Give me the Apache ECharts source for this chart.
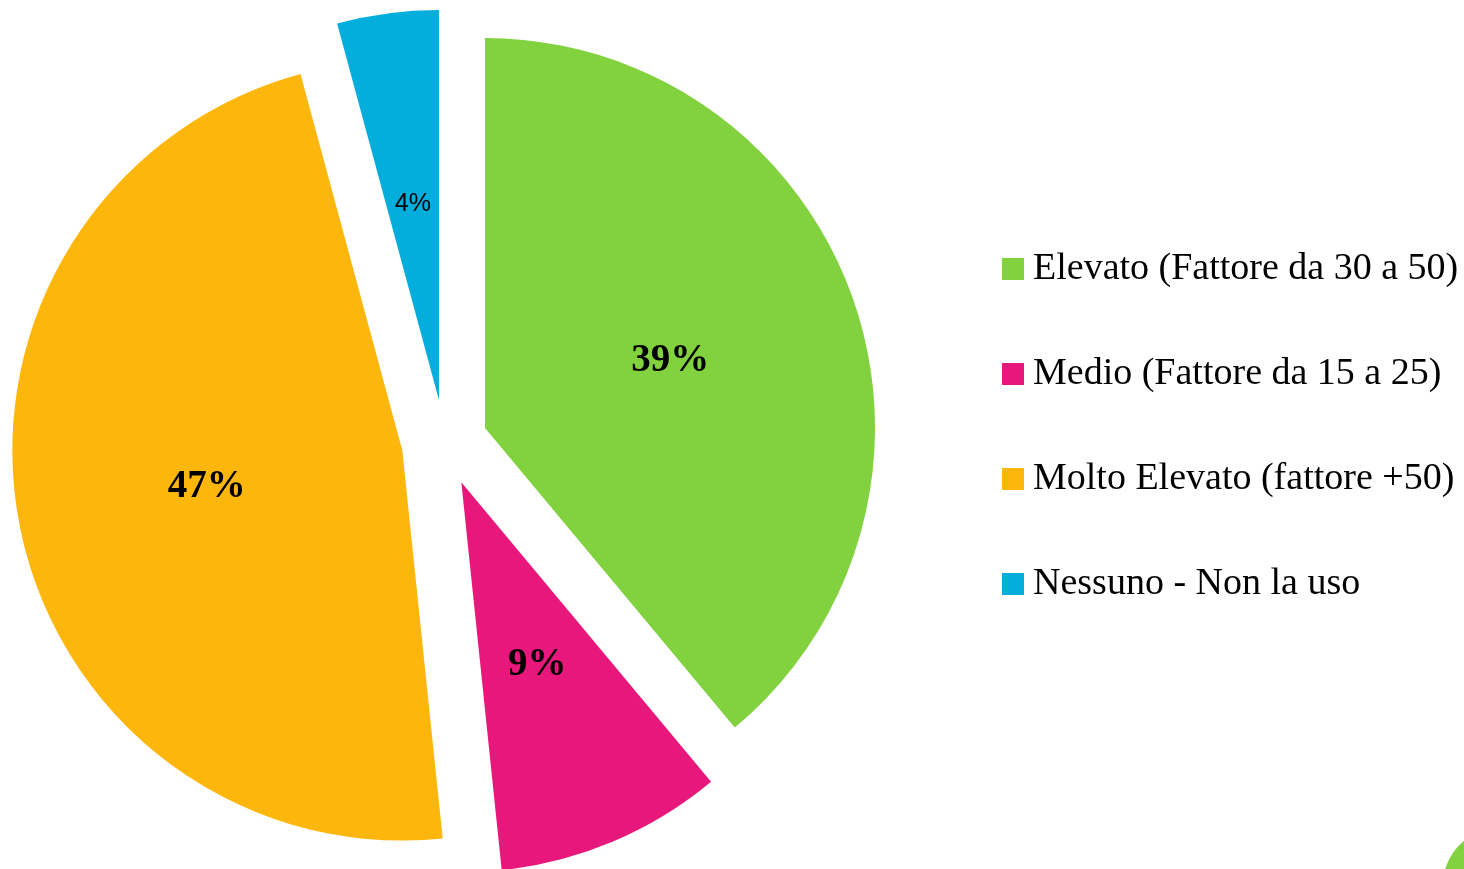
<!DOCTYPE html>
<html>
<head>
<meta charset="utf-8">
<script src="https://cdn.jsdelivr.net/npm/echarts@6/dist/echarts.min.js"></script>
<style>
html,body{margin:0;padding:0;background:#fff;}
#chart{width:1464px;height:869px;}
</style>
</head>
<body>
<div id="chart"></div>
<script>
const categories = ['Elevato (Fattore da 30 a 50)', 'Medio (Fattore da 15 a 25)', 'Molto Elevato (fattore +50)', 'Nessuno - Non la uso'];
const values = [38.9, 9.4, 47.4, 4.2];
const colors = ['#81D23E', '#E8177C', '#FDB60B', '#03ADDC'];

const chart = echarts.init(document.getElementById('chart'), null, {renderer: 'canvas'});

const data = categories.map((name, i) => ({
  name: name,
  value: values[i],
  selected: true,
  itemStyle: {color: colors[i]},
  label: i === 3
    ? {fontFamily: 'Liberation Sans', fontWeight: 'normal', fontSize: 25, padding: [12, 0, 0, 0]}
    : {padding: [7, 2, 0, 0]}
}));

chart.setOption({
  animation: false,
  backgroundColor: '#ffffff',
  legend: {
    orient: 'vertical',
    left: 997,
    top: 244,
    itemWidth: 22,
    itemHeight: 22,
    itemGap: 65,
    itemTextGap: 9,
    icon: 'rect',
    selectedMode: false,
    data: categories,
    textStyle: {fontFamily: 'Liberation Serif', fontSize: 38, lineHeight: 40, color: '#000', padding: [0, 0, 0, 4]}
  },
  graphic: [{
    type: 'circle',
    shape: {cx: 1500, cy: 885, r: 57},
    style: {fill: '#81D23E'},
    silent: true
  }],
  series: [{
    type: 'pie',
    center: [444.6, 442.7],
    radius: [0, 390],
    startAngle: 90,
    clockwise: true,
    selectedMode: 'multiple',
    selectedOffset: 43,
    avoidLabelOverlap: false,
    emphasis: {disabled: true},
    select: {itemStyle: {}},
    label: {
      show: true,
      position: 'inside',
      color: '#000',
      fontFamily: 'Liberation Serif',
      fontWeight: 'bold',
      fontSize: 39,
      formatter: p => Math.round(p.percent) + '%'
    },
    labelLine: {show: false},
    itemStyle: {borderWidth: 0},
    data: data
  }]
});
</script>
</body>
</html>
